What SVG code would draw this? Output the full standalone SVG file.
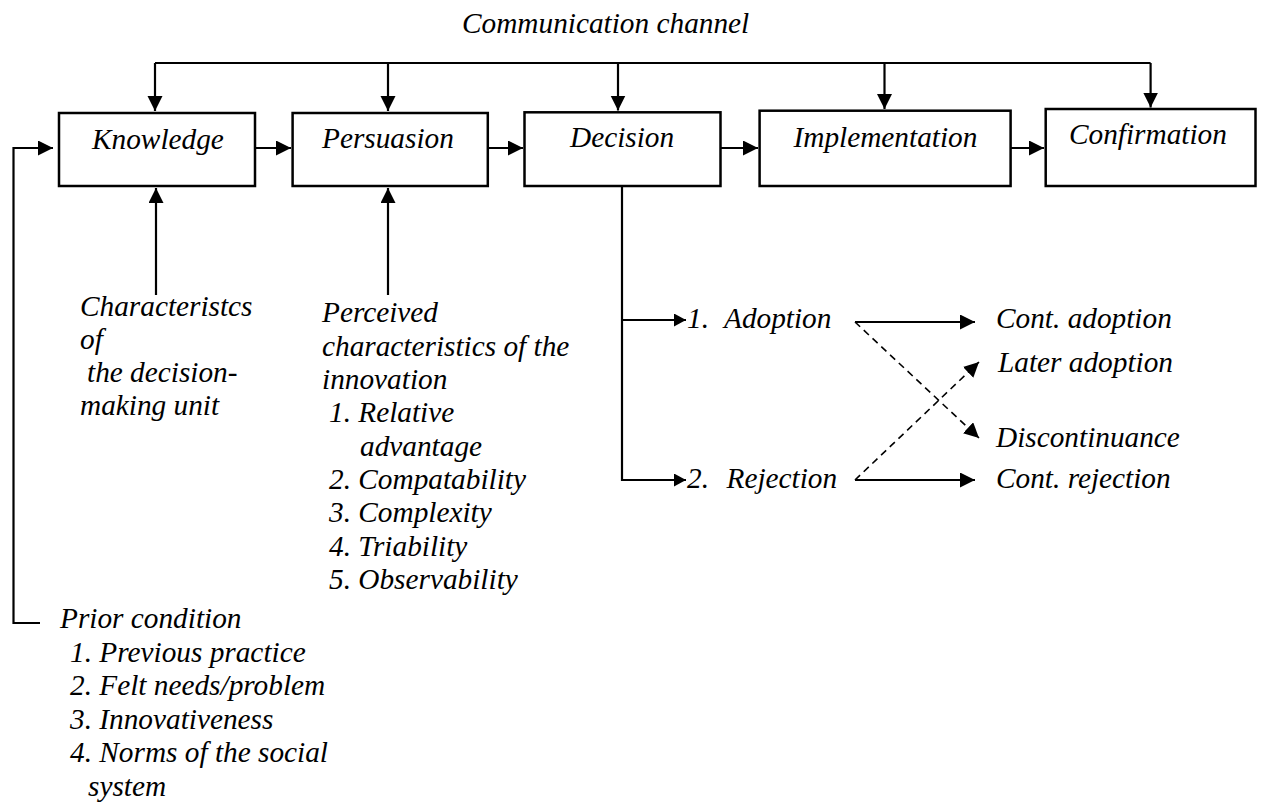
<svg xmlns="http://www.w3.org/2000/svg" width="1261" height="802" viewBox="0 0 1261 802">
<defs>
<style>
.t{font-family:'Liberation Serif','Times New Roman',serif;font-style:italic;font-size:29.3px;fill:#000}
.box{fill:#fff;stroke:#000;stroke-width:2.5}
.ln{fill:none;stroke:#000;stroke-width:2.2}
.dash{fill:none;stroke:#000;stroke-width:1.6;stroke-dasharray:7 5}
</style>
<marker id="ah" markerUnits="userSpaceOnUse" markerWidth="16" markerHeight="16" refX="15" refY="7.5" orient="auto"><path d="M0,0 L15,7.5 L0,15 z" fill="#000"/></marker>
<marker id="ahs" markerUnits="userSpaceOnUse" markerWidth="14" markerHeight="14" refX="12" refY="6.5" orient="auto"><path d="M0,0 L12,6.5 L0,13 z" fill="#000"/></marker>
</defs>
<rect width="1261" height="802" fill="#fff"/>
<g class="t">
<text x="462" y="33">Communication channel</text>
</g>
<g id="connectors">
<path class="ln" d="M155,63 H1150.6"/>
<path class="ln" d="M155,63 V111" marker-end="url(#ah)"/>
<path class="ln" d="M388,63 V111" marker-end="url(#ah)"/>
<path class="ln" d="M618,63 V110.5" marker-end="url(#ah)"/>
<path class="ln" d="M884.5,63 V109" marker-end="url(#ah)"/>
<path class="ln" d="M1150.6,63 V107.5" marker-end="url(#ah)"/>
<path class="ln" d="M255,148 H291" marker-end="url(#ah)"/>
<path class="ln" d="M488,148 H523" marker-end="url(#ah)"/>
<path class="ln" d="M720,148 H758" marker-end="url(#ah)"/>
<path class="ln" d="M1011,148 H1044" marker-end="url(#ah)"/>
<path class="ln" d="M40,623 H13.5 V148 H53" marker-end="url(#ah)"/>
<path class="ln" d="M156,295 V188" marker-end="url(#ah)"/>
<path class="ln" d="M388,295 V188" marker-end="url(#ah)"/>
<path class="ln" d="M622,186 V480 H686" marker-end="url(#ahs)"/>
<path class="ln" d="M622,320 H686" marker-end="url(#ahs)"/>
<path class="ln" d="M855,322 H975" marker-end="url(#ah)"/>
<path class="ln" d="M855,480 H975" marker-end="url(#ah)"/>
<path class="dash" d="M855,322 L979,438" marker-end="url(#ah)"/>
<path class="dash" d="M855,480 L979,362" marker-end="url(#ah)"/>
</g>
<g class="t">
<g id="knowledge"><rect class="box" x="59" y="113" width="196" height="73"/><text x="92" y="149">Knowledge</text></g>
<g id="persuasion"><rect class="box" x="292.6" y="113" width="195.2" height="73"/><text x="322" y="148">Persuasion</text></g>
<g id="decision"><rect class="box" x="524.5" y="112.3" width="196" height="73.7"/><text x="570" y="147">Decision</text></g>
<g id="implementation"><rect class="box" x="759.6" y="110.7" width="251" height="75.3"/><text x="793.5" y="147">Implementation</text></g>
<g id="confirmation"><rect class="box" x="1045.7" y="109" width="209.8" height="77"/><text x="1069" y="144">Confirmation</text></g>
<g id="characteristics">
<text x="80" y="316">Characteristcs</text>
<text x="80" y="349">of</text>
<text x="87" y="382">the decision-</text>
<text x="80" y="415">making unit</text>
</g>
<g id="perceived">
<text x="322" y="322">Perceived</text>
<text x="322" y="355.5">characteristics of the</text>
<text x="322" y="389">innovation</text>
<text x="329" y="422">1. Relative</text>
<text x="360" y="455.5">advantage</text>
<text x="329" y="489">2. Compatability</text>
<text x="329" y="522">3. Complexity</text>
<text x="329" y="555.5">4. Triability</text>
<text x="329" y="589">5. Observability</text>
</g>
<g id="prior">
<text x="60" y="628">Prior condition</text>
<text x="70" y="661.5">1. Previous practice</text>
<text x="70" y="695">2. Felt needs/problem</text>
<text x="70" y="728.5">3. Innovativeness</text>
<text x="70" y="762">4. Norms of the social</text>
<text x="88" y="795.5">system</text>
</g>
<g id="adoption"><text x="687" y="328">1.<tspan x="724">Adoption</tspan></text></g>
<g id="rejection"><text x="687" y="488">2.<tspan x="726.5">Rejection</tspan></text></g>
<g id="cont-adoption"><text x="996" y="328">Cont. adoption</text></g>
<g id="later-adoption"><text x="998" y="372">Later adoption</text></g>
<g id="discontinuance"><text x="996" y="447">Discontinuance</text></g>
<g id="cont-rejection"><text x="996" y="488">Cont. rejection</text></g>
</g>
</svg>
